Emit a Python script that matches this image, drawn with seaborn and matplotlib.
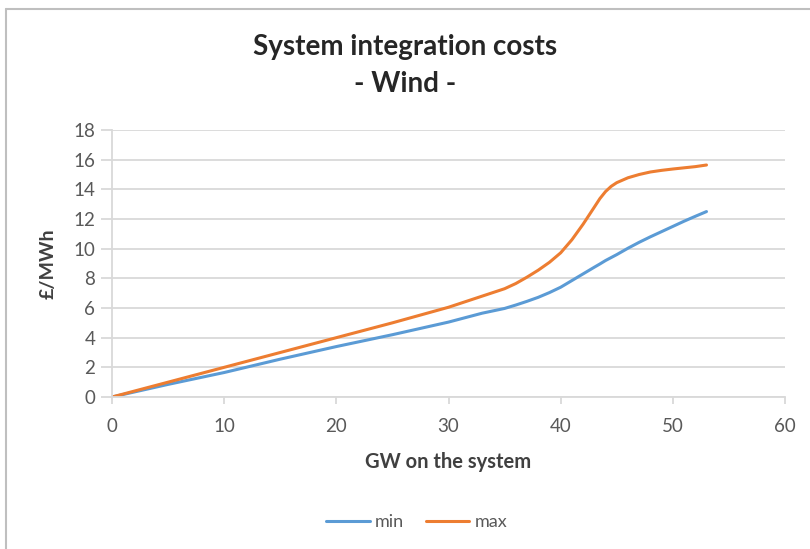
import matplotlib
matplotlib.use("Agg")
import matplotlib.pyplot as plt
from matplotlib.lines import Line2D
import pandas as pd
import seaborn as sns

# Installed capacity (GW) and integration cost range (GBP/MWh)
gw = [0, 5, 10, 15, 20, 25, 30, 33, 35, 36, 37, 38, 39, 40, 41, 42, 43, 43.5, 44, 44.5, 45, 46, 47,
      48, 49, 50, 51, 52, 53]
cost_min = [0, 0.85, 1.65, 2.55, 3.4, 4.2, 5.05, 5.65, 5.97, 6.2, 6.45, 6.72, 7.04, 7.4, 7.85, 8.3,
            8.75, 8.97, 9.2, 9.4, 9.6, 10.03, 10.43, 10.8, 11.15, 11.5, 11.85, 12.18, 12.5]
cost_max = [0, 1.0, 2.0, 3.0, 4.0, 5.0, 6.05, 6.8, 7.3, 7.65, 8.08, 8.55, 9.08, 9.72, 10.6, 11.65,
            12.8, 13.38, 13.85, 14.2, 14.45, 14.78, 15.0, 15.17, 15.28, 15.37, 15.45, 15.53, 15.64]
series_names = ["min", "max"]
x_ticks = [0, 10, 20, 30, 40, 50, 60]
y_ticks = [0, 2, 4, 6, 8, 10, 12, 14, 16, 18]

df = pd.DataFrame({"GW": gw * 2,
                   "cost": cost_min + cost_max,
                   "series": [series_names[0]] * len(gw) + [series_names[1]] * len(gw)})

sns.set_theme(style="white")
plt.rcParams["font.family"] = ["Lato", "DejaVu Sans"]

text_col = "#595959"
grid_col = "#D9D9D9"
palette = {"min": "#5B9BD5", "max": "#ED7D31"}

fig = plt.figure(figsize=(8.10, 5.49), dpi=100)
ax = fig.add_axes([112 / 810, 1 - 397 / 549, (785 - 112) / 810, (397 - 130) / 549])

sns.lineplot(data=df, x="GW", y="cost", hue="series", palette=palette,
             linewidth=2.2, ax=ax, legend=False, sort=False)
for line in ax.get_lines():
    line.set_solid_joinstyle("round")

ax.set_xlim(0, 60)
ax.set_ylim(0, 18)
ax.set_xticks(x_ticks)
ax.set_yticks(y_ticks)
ax.grid(axis="y", color=grid_col, linewidth=1.3)
ax.grid(axis="x", visible=False)
ax.set_axisbelow(True)

for side in ["top", "right"]:
    ax.spines[side].set_visible(False)
for side in ["left", "bottom"]:
    ax.spines[side].set_color(grid_col)
    ax.spines[side].set_linewidth(1.3)

ax.tick_params(axis="x", direction="out", length=5, width=1.3, color=grid_col,
               labelsize=13.5, labelcolor=text_col, pad=10)
ax.tick_params(axis="y", direction="out", length=8, width=1.3, color=grid_col,
               labelsize=13.5, labelcolor=text_col, pad=4)
ax.tick_params(bottom=True, left=True)

ax.set_xlabel("GW on the system", fontsize=14.5, fontweight="bold", color="#404040", labelpad=12)
ax.set_ylabel("£/MWh", fontsize=14, fontweight="bold", color="#404040", labelpad=12)

fig.text(0.5, 1 - 47 / 549, "System integration costs", ha="center", va="center",
         fontsize=20, fontweight="bold", color="#262626")
fig.text(0.5, 1 - 84 / 549, "- Wind -", ha="center", va="center",
         fontsize=20, fontweight="bold", color="#262626")

handles = [Line2D([0], [0], color=palette[n], linewidth=2.2) for n in series_names]
fig.legend(handles, series_names, loc="center", bbox_to_anchor=(417 / 810, 1 - 522 / 549),
           ncol=2, frameon=False, fontsize=13, labelcolor=text_col,
           handlelength=2.4, handletextpad=0.3, columnspacing=1.2)

# chart frame edges
fig.add_artist(Line2D([5.5 / 810, 5.5 / 810], [0, 1 - 8.5 / 549], color="#BFBFBF", linewidth=1.5))
fig.add_artist(Line2D([5.5 / 810, 1], [1 - 8.5 / 549, 1 - 8.5 / 549], color="#BFBFBF", linewidth=1.5))

fig.savefig("out.png", dpi=100)
